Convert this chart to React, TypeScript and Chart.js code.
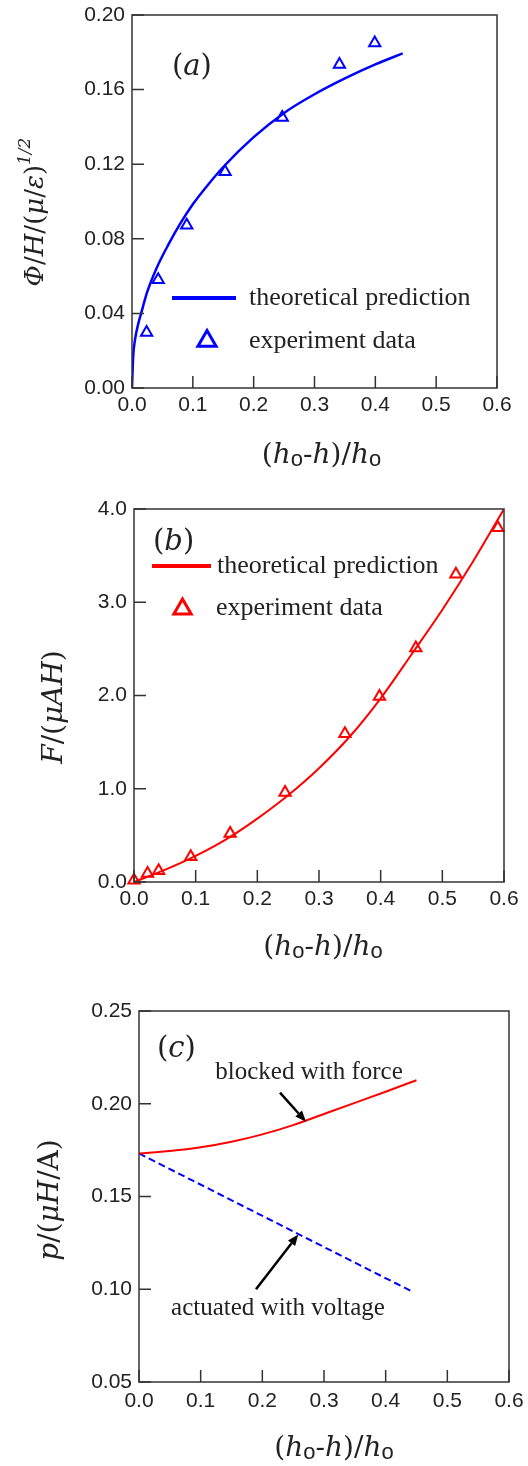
import React, { useEffect, useRef } from "react";
import { Chart, registerables } from "chart.js";

Chart.register(...registerables);

// ---------------- data ----------------
const xTickLabels = ["0.0", "0.1", "0.2", "0.3", "0.4", "0.5", "0.6"];
const aYTickLabels = ["0.00", "0.04", "0.08", "0.12", "0.16", "0.20"];
const bYTickLabels = ["0.0", "1.0", "2.0", "3.0", "4.0"];
const cYTickLabels = ["0.05", "0.10", "0.15", "0.20", "0.25"];

// (a) potential vs stretch
const aTheoryX = [0, 0.002, 0.005, 0.01, 0.015, 0.025, 0.04, 0.06, 0.08, 0.1, 0.125, 0.15, 0.2, 0.25, 0.3, 0.35, 0.4, 0.445];
const aTheoryY = [0, 0.017, 0.026, 0.034, 0.04, 0.0515, 0.064, 0.077, 0.0885, 0.0985, 0.109, 0.1185, 0.1345, 0.1475, 0.1575, 0.166, 0.1735, 0.1794];
const aExpX = [0.024, 0.043, 0.09, 0.153, 0.247, 0.341, 0.399];
const aExpY = [0.0297, 0.058, 0.0873, 0.116, 0.145, 0.1735, 0.185];

// (b) force vs stretch
const bTheoryX = [0, 0.05, 0.1, 0.15, 0.2, 0.25, 0.3, 0.35, 0.4, 0.45, 0.5, 0.55, 0.6];
const bTheoryY = [0, 0.13, 0.28, 0.46, 0.68, 0.93, 1.22, 1.56, 1.97, 2.44, 2.92, 3.44, 4.0];
const bExpX = [0, 0.022, 0.04, 0.092, 0.156, 0.245, 0.342, 0.398, 0.457, 0.522, 0.59];
const bExpY = [0.02, 0.09, 0.12, 0.27, 0.52, 0.96, 1.59, 1.99, 2.51, 3.3, 3.8];

// (c) pressure vs stretch
const cForceX = [0, 0.05, 0.1, 0.15, 0.2, 0.25, 0.3, 0.35, 0.4, 0.45];
const cForceY = [0.1732, 0.1745, 0.1765, 0.1795, 0.1835, 0.1885, 0.1945, 0.2005, 0.2065, 0.2127];
const cVoltX = [0, 0.445];
const cVoltY = [0.1732, 0.0984];

// ---------------- styles ----------------
const W = 528;
const MATH = '"DejaVu Serif", "Liberation Serif", serif';
const SERIF = '"Liberation Serif", "Times New Roman", serif';
const SANS = '"Liberation Sans", Arial, sans-serif';
const TEXT = "#222";
const FRAME = "#333";
const BLUE = "#0000ff";
const RED = "#ff0000";
const XAXIS_H = 40;
const TICK_SIZE = 21;

type Seg = { t: string; f: string; dy?: number };

const pts = (xs: number[], ys: number[]) => xs.map((x, i) => ({ x, y: ys[i] }));

function segsWidth(ctx: CanvasRenderingContext2D, segs: Seg[]) {
  let w = 0;
  for (const s of segs) {
    ctx.font = s.f;
    w += ctx.measureText(s.t).width;
  }
  return w;
}

function drawSegs(ctx: CanvasRenderingContext2D, segs: Seg[], x: number, y: number, align: "left" | "center") {
  let cx = align === "center" ? x - segsWidth(ctx, segs) / 2 : x;
  ctx.textAlign = "left";
  ctx.textBaseline = "alphabetic";
  ctx.fillStyle = TEXT;
  for (const s of segs) {
    ctx.font = s.f;
    ctx.fillText(s.t, cx, y + (s.dy || 0));
    cx += ctx.measureText(s.t).width;
  }
}

function triangle(ctx: CanvasRenderingContext2D, cx: number, cy: number, r: number, color: string, lw: number) {
  ctx.beginPath();
  ctx.moveTo(cx, cy - r);
  ctx.lineTo(cx + r * Math.sin((2 * Math.PI) / 3), cy - r * Math.cos((2 * Math.PI) / 3));
  ctx.lineTo(cx + r * Math.sin((4 * Math.PI) / 3), cy - r * Math.cos((4 * Math.PI) / 3));
  ctx.closePath();
  ctx.strokeStyle = color;
  ctx.lineWidth = lw;
  ctx.stroke();
}

function arrow(ctx: CanvasRenderingContext2D, x1: number, y1: number, x2: number, y2: number) {
  const ang = Math.atan2(y2 - y1, x2 - x1);
  const hl = 11;
  const hw = 4.5;
  const bx = x2 - hl * Math.cos(ang);
  const by = y2 - hl * Math.sin(ang);
  ctx.strokeStyle = "#000";
  ctx.fillStyle = "#000";
  ctx.lineWidth = 2.5;
  ctx.beginPath();
  ctx.moveTo(x1, y1);
  ctx.lineTo(bx, by);
  ctx.stroke();
  ctx.beginPath();
  ctx.moveTo(x2, y2);
  ctx.lineTo(bx + hw * Math.sin(ang), by - hw * Math.cos(ang));
  ctx.lineTo(bx - hw * Math.sin(ang), by + hw * Math.cos(ang));
  ctx.closePath();
  ctx.fill();
}

const mathN = (s: number) => `${s}px ${MATH}`;
const mathI = (s: number) => `italic ${s}px ${MATH}`;

const xTitleSegs: Seg[] = [
  { t: "(", f: mathN(28) },
  { t: "h", f: mathI(28) },
  { t: "o", f: `22px ${SANS}`, dy: 3 },
  { t: "-", f: mathN(28) },
  { t: "h", f: mathI(28) },
  { t: ")/", f: mathN(28) },
  { t: "h", f: mathI(28) },
  { t: "o", f: `22px ${SANS}`, dy: 3 },
];

interface Legend {
  color: string;
  lineX1: number; lineX2: number; lineY: number; text1X: number; text1Y: number;
  triX: number; triY: number; triR: number; text2X: number; text2Y: number;
}
interface Note { text: string; tx: number; ty: number; ax1: number; ay1: number; ax2: number; ay2: number }
interface Spec {
  height: number;
  area: { left: number; right: number; top: number; bottom: number };
  xPad: number;
  yMin: number; yMax: number; yStep: number; yLabels: string[];
  datasets: any[];
  label: { segs: Seg[]; x: number; y: number };
  xTitle: { dx: number; dy: number };
  yTitle: { segs: Seg[]; x: number; y: number };
  legend?: Legend;
  notes?: Note[];
}

function decorPlugin(spec: Spec) {
  return {
    id: "decor",
    afterDraw(chart: any) {
      const ctx: CanvasRenderingContext2D = chart.ctx;
      const { left, right, top, bottom } = chart.chartArea;
      const xs = chart.scales.x;
      const ys = chart.scales.y;
      ctx.save();
      // frame
      ctx.strokeStyle = FRAME;
      ctx.lineWidth = 1.5;
      ctx.strokeRect(left, top, right - left, bottom - top);
      // inward ticks
      ctx.beginPath();
      for (const t of xs.ticks) {
        const px = xs.getPixelForValue(t.value);
        ctx.moveTo(px, bottom);
        ctx.lineTo(px, bottom - 12);
      }
      for (const t of ys.ticks) {
        const py = ys.getPixelForValue(t.value);
        ctx.moveTo(left, py);
        ctx.lineTo(left + 12, py);
      }
      ctx.stroke();

      // panel label
      drawSegs(ctx, spec.label.segs, spec.label.x, spec.label.y, "left");

      // axis titles
      drawSegs(ctx, xTitleSegs, (left + right) / 2 + spec.xTitle.dx, bottom + spec.xTitle.dy, "center");
      ctx.save();
      ctx.translate(spec.yTitle.x, spec.yTitle.y);
      ctx.rotate(-Math.PI / 2);
      drawSegs(ctx, spec.yTitle.segs, 0, 0, "center");
      ctx.restore();

      // legend
      const lg = spec.legend;
      if (lg) {
        ctx.strokeStyle = lg.color;
        ctx.lineWidth = 4;
        ctx.beginPath();
        ctx.moveTo(lg.lineX1, lg.lineY);
        ctx.lineTo(lg.lineX2, lg.lineY);
        ctx.stroke();
        drawSegs(ctx, [{ t: "theoretical prediction", f: `26px ${SERIF}` }], lg.text1X, lg.text1Y, "left");
        triangle(ctx, lg.triX, lg.triY, lg.triR, lg.color, 3);
        drawSegs(ctx, [{ t: "experiment data", f: `26px ${SERIF}` }], lg.text2X, lg.text2Y, "left");
      }

      // annotations
      for (const n of spec.notes || []) {
        drawSegs(ctx, [{ t: n.text, f: `25px ${SERIF}` }], xs.getPixelForValue(n.tx), ys.getPixelForValue(n.ty), "center");
        arrow(ctx, xs.getPixelForValue(n.ax1), ys.getPixelForValue(n.ay1), xs.getPixelForValue(n.ax2), ys.getPixelForValue(n.ay2));
      }
      ctx.restore();
    },
  };
}

function buildConfig(spec: Spec): any {
  const a = spec.area;
  return {
    type: "scatter",
    data: { datasets: spec.datasets },
    options: {
      responsive: false,
      animation: false,
      events: [],
      layout: {
        padding: { left: 0, right: W - a.right, top: a.top, bottom: spec.height - a.bottom - XAXIS_H },
      },
      plugins: { legend: { display: false }, tooltip: { enabled: false }, title: { display: false } },
      scales: {
        x: {
          type: "linear",
          min: 0,
          max: 0.6,
          grid: { display: false, drawTicks: false },
          border: { display: false },
          ticks: {
            stepSize: 0.1,
            autoSkip: false,
            maxRotation: 0,
            padding: spec.xPad,
            color: TEXT,
            font: { family: SANS, size: TICK_SIZE },
            callback: (v: number, i: number) => xTickLabels[i] ?? Number(v).toFixed(1),
          },
          afterFit: (s: any) => {
            s.height = XAXIS_H;
            s.paddingLeft = 0;
            s.paddingRight = 0;
          },
        },
        y: {
          type: "linear",
          min: spec.yMin,
          max: spec.yMax,
          grid: { display: false, drawTicks: false },
          border: { display: false },
          ticks: {
            stepSize: spec.yStep,
            autoSkip: false,
            padding: 7,
            color: TEXT,
            font: { family: SANS, size: TICK_SIZE },
            callback: (v: number, i: number) => spec.yLabels[i] ?? String(v),
          },
          afterFit: (s: any) => {
            s.width = a.left;
            s.paddingTop = 0;
            s.paddingBottom = 0;
          },
        },
      },
    },
    plugins: [decorPlugin(spec)],
  };
}

const triangleSet = (data: any[], color: string) => ({
  data,
  showLine: false,
  pointStyle: "triangle",
  pointRadius: 6.5,
  pointBorderWidth: 2,
  pointBorderColor: color,
  pointBackgroundColor: "rgba(0,0,0,0)",
  clip: false,
  order: 0,
});

const curveSet = (data: any[], color: string, width: number, dash?: number[]) => ({
  data,
  showLine: true,
  pointRadius: 0,
  borderColor: color,
  borderWidth: width,
  borderDash: dash || [],
  cubicInterpolationMode: "monotone",
  fill: false,
  order: 1,
});

const panelA: Spec = {
  height: 480,
  area: { left: 132, right: 497, top: 15, bottom: 388 },
  xPad: 5,
  yMin: 0, yMax: 0.2, yStep: 0.04, yLabels: aYTickLabels,
  datasets: [curveSet(pts(aTheoryX, aTheoryY), BLUE, 2.5), triangleSet(pts(aExpX, aExpY), BLUE)],
  label: { segs: [{ t: "(", f: mathN(29) }, { t: "a", f: mathI(29) }, { t: ")", f: mathN(29) }], x: 172, y: 75 },
  xTitle: { dx: 7, dy: 75 },
  yTitle: {
    segs: [
      { t: "Φ", f: mathI(26) }, { t: "/", f: mathN(26) }, { t: "H", f: mathI(26) }, { t: "/(", f: mathN(26) },
      { t: "μ", f: mathI(26) }, { t: "/", f: mathN(26) }, { t: "ε", f: mathI(26) }, { t: ")", f: mathN(26) },
      { t: "1/2", f: mathI(17), dy: -13 },
    ],
    x: 43, y: 212,
  },
  legend: {
    color: BLUE, lineX1: 172, lineX2: 236, lineY: 298, text1X: 249, text1Y: 305,
    triX: 207, triY: 341, triR: 10.5, text2X: 249, text2Y: 348,
  },
};

const panelB: Spec = {
  height: 500,
  area: { left: 134, right: 504, top: 29, bottom: 402 },
  xPad: 5,
  yMin: 0, yMax: 4, yStep: 1, yLabels: bYTickLabels,
  datasets: [curveSet(pts(bTheoryX, bTheoryY), RED, 2), triangleSet(pts(bExpX, bExpY), RED)],
  label: { segs: [{ t: "(", f: mathN(29) }, { t: "b", f: mathI(29) }, { t: ")", f: mathN(29) }], x: 153, y: 70 },
  xTitle: { dx: 4, dy: 73 },
  yTitle: {
    segs: [{ t: "F", f: mathI(28) }, { t: "/(", f: mathN(28) }, { t: "μAH", f: mathI(28) }, { t: ")", f: mathN(28) }],
    x: 62, y: 227,
  },
  legend: {
    color: RED, lineX1: 152, lineX2: 211, lineY: 86, text1X: 217, text1Y: 93,
    triX: 182.5, triY: 129, triR: 10, text2X: 216, text2Y: 135,
  },
};

const panelC: Spec = {
  height: 486,
  area: { left: 139, right: 509, top: 31, bottom: 402 },
  xPad: 7,
  yMin: 0.05, yMax: 0.25, yStep: 0.05, yLabels: cYTickLabels,
  datasets: [
    curveSet(pts(cForceX, cForceY), RED, 2),
    curveSet(pts(cVoltX, cVoltY), BLUE, 2, [7, 4]),
  ],
  label: { segs: [{ t: "(", f: mathN(29) }, { t: "c", f: mathI(29) }, { t: ")", f: mathN(29) }], x: 157, y: 77 },
  xTitle: { dx: 10, dy: 74 },
  yTitle: {
    segs: [
      { t: "p", f: mathI(28) }, { t: "/(", f: mathN(28) }, { t: "μH", f: mathI(28) },
      { t: "/A)", f: mathN(28) },
    ],
    x: 58, y: 220,
  },
  notes: [
    { text: "blocked with force", tx: 0.2757, ty: 0.2133, ax1: 0.2286, ay1: 0.206, ax2: 0.2708, ay2: 0.1903 },
    { text: "actuated with voltage", tx: 0.2254, ty: 0.0861, ax1: 0.1897, ay1: 0.1, ax2: 0.2583, ay2: 0.1295 },
  ],
};

function Panel({ spec, top }: { spec: Spec; top: number }) {
  const ref = useRef<HTMLCanvasElement>(null);
  useEffect(() => {
    const chart = new Chart(ref.current as HTMLCanvasElement, buildConfig(spec));
    return () => chart.destroy();
  }, [spec]);
  return (
    <canvas
      ref={ref}
      width={W}
      height={spec.height}
      style={{ position: "absolute", left: 0, top, width: W, height: spec.height }}
    />
  );
}

export default function App() {
  return (
    <div style={{ position: "absolute", left: 0, top: 0, width: W, height: 1466, background: "#fff", overflow: "hidden" }}>
      <Panel spec={panelA} top={0} />
      <Panel spec={panelB} top={480} />
      <Panel spec={panelC} top={980} />
    </div>
  );
}
